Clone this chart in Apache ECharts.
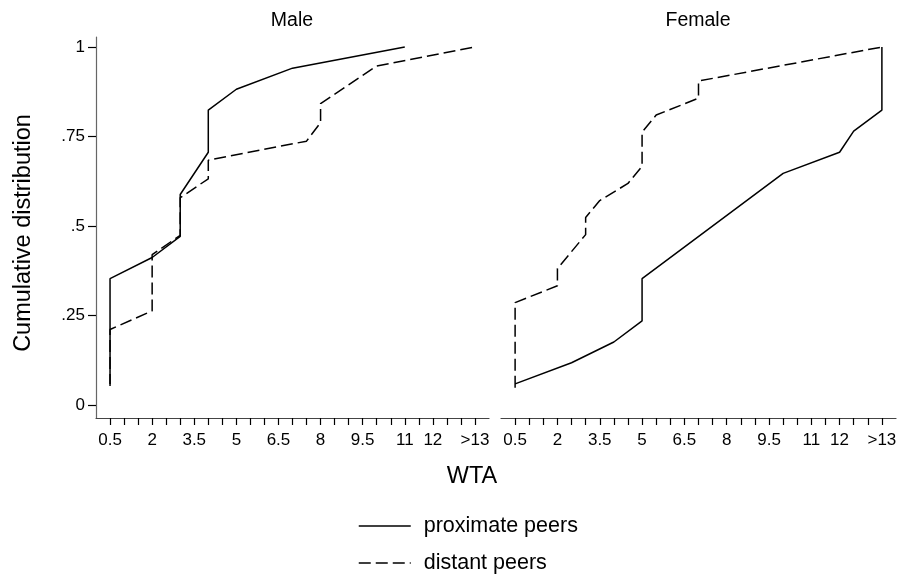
<!DOCTYPE html>
<html>
<head>
<meta charset="utf-8">
<script src="https://cdn.jsdelivr.net/npm/echarts@6/dist/echarts.min.js"></script>
<style>
html,body{margin:0;padding:0;background:#fff;}
#chart{width:902px;height:575px;}
</style>
</head>
<body>
<div id="chart"></div>
<script>
// ---- data ----
var panelTitles = ['Male', 'Female'];
var seriesNames = ['proximate peers', 'distant peers'];

var maleProximate = [[0.5,0.059],[0.5,0.353],[2,0.412],[3,0.471],[3,0.588],[4,0.706],[4,0.824],[5,0.882],[7,0.941],[11,1]];
var maleDistant = [[0.5,0.053],[0.5,0.211],[2,0.263],[2,0.42],[3,0.474],[3,0.579],[4,0.632],[4,0.684],[7.5,0.737],[8,0.789],[8,0.842],[10,0.947],[13.5,1]];
var femaleProximate = [[0.5,0.059],[2.5,0.118],[4,0.176],[5,0.235],[5,0.353],[10,0.647],[12,0.706],[12.5,0.765],[13.5,0.824],[13.5,1]];
var femaleDistant = [[0.5,0.048],[0.5,0.286],[2,0.333],[2,0.381],[3,0.476],[3,0.524],[3.5,0.571],[4.5,0.619],[5,0.667],[5,0.762],[5.5,0.81],[7,0.857],[7,0.905],[13.5,1]];

var xTickValues = [0.5,1,1.5,2,2.5,3,3.5,4,4.5,5,5.5,6,6.5,7,7.5,8,8.5,9,9.5,10,10.5,11,11.5,12,12.5,13,13.5];
var xLabelValues = [0.5,2,3.5,5,6.5,8,9.5,11,12,13.5];
var xLabelTexts = ['0.5','2','3.5','5','6.5','8','9.5','11','12','>13'];
var yTickValues = [0,0.25,0.5,0.75,1];
var yLabelTexts = ['0','.25','.5','.75','1'];

// ---- chart ----
var FONT = "'Liberation Sans', Arial, Helvetica, sans-serif";
var chart = echarts.init(document.getElementById('chart'), null, {renderer:'canvas'});

function xAxisDef(gi){
  return {
    type:'value', gridIndex:gi, min:0, max:14,
    axisLine:{show:true, onZero:false, lineStyle:{color:'#444', width:1.2}},
    axisTick:{show:true, customValues:xTickValues, length:7, lineStyle:{color:'#000', width:1.2}},
    axisLabel:{show:true, customValues:xLabelValues, margin:14, fontSize:17, lineHeight:17,
      fontFamily:FONT, color:'#000',
      formatter:function(v){ var i = xLabelValues.indexOf(v); return i>=0 ? xLabelTexts[i] : ''; }},
    splitLine:{show:false}
  };
}
function yAxisDef(gi, show){
  return {
    type:'value', gridIndex:gi, min:-0.0363, max:1.028,
    name: show ? 'Cumulative distribution' : '',
    nameLocation:'middle', nameRotate:90, nameGap:60,
    nameTextStyle:{fontSize:23.5, fontFamily:FONT, color:'#000', padding:[0,11,0,0]},
    axisLine:{show:show, onZero:false, lineStyle:{color:'#666', width:1.2}},
    axisTick:{show:show, customValues:yTickValues, length:8, lineStyle:{color:'#000', width:1.2}},
    axisLabel:{show:show, customValues:yTickValues, margin:11, fontSize:17, fontFamily:FONT, color:'#000',
      formatter:function(v){ var i = yTickValues.indexOf(v); return i>=0 ? yLabelTexts[i] : ''; }},
    splitLine:{show:false}
  };
}
function lineSeries(name, data, gi, dashed){
  return {
    type:'line', name:name, xAxisIndex:gi, yAxisIndex:gi, data:data,
    symbol:'none', showSymbol:false, clip:false, animation:false,
    lineStyle:{color:'#000', width:1.5, type: dashed ? [12,5] : 'solid'},
    itemStyle:{color:'#000'}
  };
}

var option = {
  backgroundColor:'#fff',
  animation:false,
  title:[
    {text:panelTitles[0], left:292, top:11, textAlign:'center', padding:0,
     textStyle:{fontSize:19.5, lineHeight:20, fontWeight:'normal', fontFamily:FONT, color:'#000'}},
    {text:panelTitles[1], left:698, top:11, textAlign:'center', padding:0,
     textStyle:{fontSize:19.5, lineHeight:20, fontWeight:'normal', fontFamily:FONT, color:'#000'}},
    {text:'WTA', left:472, top:465, textAlign:'center', padding:0,
     textStyle:{fontSize:23.5, lineHeight:24, fontWeight:'normal', fontFamily:FONT, color:'#000'}}
  ],
  grid:[
    {left:96, top:37, width:393, height:381},
    {left:501, top:37, width:395, height:381}
  ],
  xAxis:[xAxisDef(0), xAxisDef(1)],
  yAxis:[yAxisDef(0,true), yAxisDef(1,false)],
  legend:{
    data:seriesNames, orient:'vertical', left:358, top:515, padding:0,
    itemWidth:52, itemHeight:22, itemGap:15,
    itemStyle:{opacity:0, borderWidth:0},
    lineStyle:{width:1.5, opacity:1},
    textStyle:{fontSize:21.5, lineHeight:22, fontFamily:FONT, color:'#000', padding:[0,0,0,8]}
  },
  series:[
    lineSeries(seriesNames[0], maleProximate, 0, false),
    lineSeries(seriesNames[1], maleDistant, 0, true),
    lineSeries(seriesNames[0], femaleProximate, 1, false),
    lineSeries(seriesNames[1], femaleDistant, 1, true)
  ]
};
chart.setOption(option);
</script>
</body>
</html>
